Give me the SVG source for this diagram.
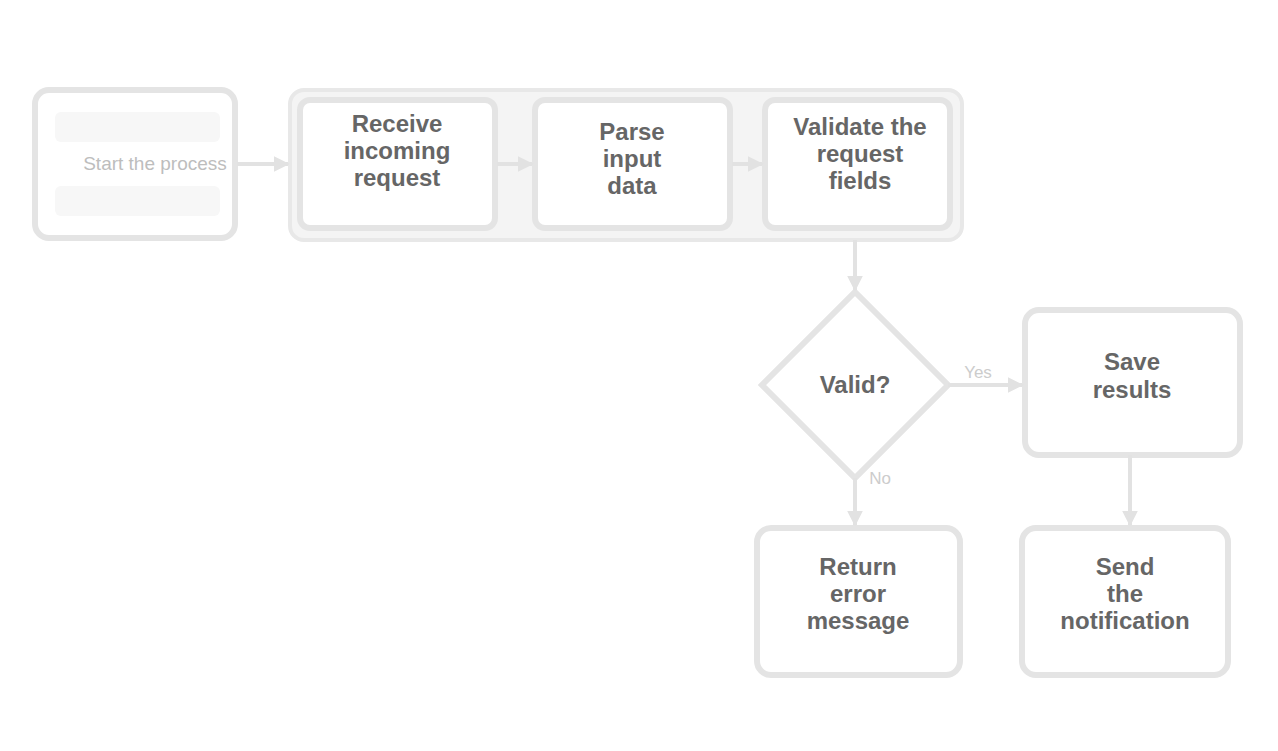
<svg xmlns="http://www.w3.org/2000/svg" width="1278" height="751" viewBox="0 0 1278 751">
<defs>
<style>
.box{fill:#ffffff;stroke:#e4e4e4;stroke-width:6}
.inner{fill:#f7f7f7;stroke:none}
.grp{fill:#f4f4f4;stroke:#e8e8e8;stroke-width:4}
.t{font-family:"Liberation Sans",Arial,sans-serif;font-size:24px;font-weight:bold;fill:#666666;text-anchor:middle}
.ts{font-family:"Liberation Sans",Arial,sans-serif;font-size:19px;fill:#bdbdbd;text-anchor:middle}
.lbl{font-family:"Liberation Sans",Arial,sans-serif;font-size:17px;fill:#cccccc;text-anchor:middle}
.c{stroke:#e2e2e2;stroke-width:4;fill:none}
</style>
<marker id="ah" viewBox="0 0 10 10" refX="9" refY="5" markerWidth="4" markerHeight="4" orient="auto"><path d="M0,0L10,5L0,10z" fill="#e2e2e2"/></marker>
</defs>
<rect width="1278" height="751" fill="#ffffff"/>
<g id="start">
<rect class="box" x="35" y="90" width="200" height="148" rx="14"/>
<rect class="inner" x="55" y="112" width="165" height="30" rx="6"/>
<rect class="inner" x="55" y="186" width="165" height="30" rx="6"/>
<text class="ts" x="155" y="170">Start the process</text>
</g>
<g id="pipeline">
<rect class="grp" x="290" y="90" width="672" height="150" rx="14"/>
</g>
<g id="step1">
<rect class="box" x="300" y="100" width="195" height="128" rx="10"/>
<text class="t" x="397" y="132">Receive</text>
<text class="t" x="397" y="159">incoming</text>
<text class="t" x="397" y="186">request</text>
</g>
<g id="step2">
<rect class="box" x="535" y="100" width="195" height="128" rx="10"/>
<text class="t" x="632" y="140">Parse</text>
<text class="t" x="632" y="167">input</text>
<text class="t" x="632" y="194">data</text>
</g>
<g id="step3">
<rect class="box" x="765" y="100" width="185" height="128" rx="10"/>
<text class="t" x="860" y="135">Validate the</text>
<text class="t" x="860" y="162">request</text>
<text class="t" x="860" y="189">fields</text>
</g>
<g id="decision">
<polygon class="box" points="855,292 948,385 855,478 762,385"/>
<text class="t" x="855" y="393">Valid?</text>
</g>
<g id="save">
<rect class="box" x="1025" y="310" width="215" height="145" rx="14"/>
<text class="t" x="1132" y="370">Save</text>
<text class="t" x="1132" y="398">results</text>
</g>
<g id="error">
<rect class="box" x="757" y="528" width="203" height="147" rx="14"/>
<text class="t" x="858" y="575">Return</text>
<text class="t" x="858" y="602">error</text>
<text class="t" x="858" y="629">message</text>
</g>
<g id="notify">
<rect class="box" x="1022" y="528" width="206" height="147" rx="14"/>
<text class="t" x="1125" y="575">Send</text>
<text class="t" x="1125" y="602">the</text>
<text class="t" x="1125" y="629">notification</text>
</g>
<g id="connectors">
<path class="c" d="M237,164 L288,164" marker-end="url(#ah)"/>
<path class="c" d="M497,164 L532,164" marker-end="url(#ah)"/>
<path class="c" d="M732,164 L762,164" marker-end="url(#ah)"/>
<path class="c" d="M855,240 L855,290" marker-end="url(#ah)"/>
<path class="c" d="M948,385 L1022,385" marker-end="url(#ah)"/>
<path class="c" d="M855,478 L855,525" marker-end="url(#ah)"/>
<path class="c" d="M1130,455 L1130,525" marker-end="url(#ah)"/>
<text class="lbl" x="978" y="378">Yes</text>
<text class="lbl" x="880" y="484">No</text>
</g>
</svg>
